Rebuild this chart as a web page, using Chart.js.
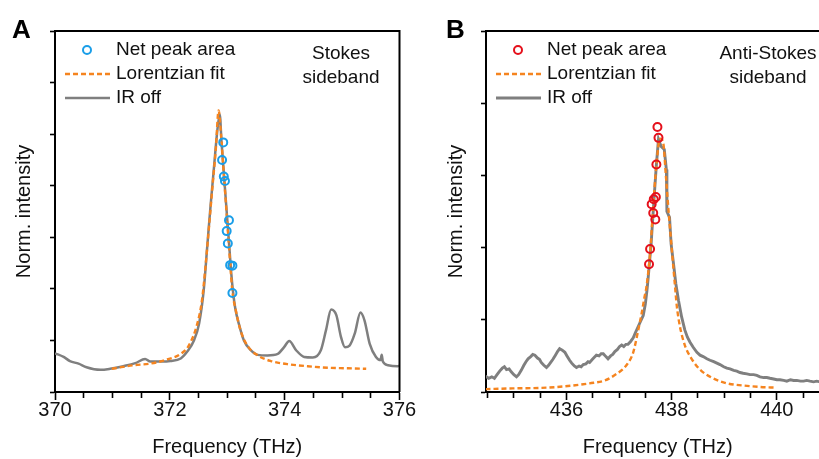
<!DOCTYPE html>
<html>
<head>
<meta charset="utf-8">
<script src="https://cdn.jsdelivr.net/npm/chart.js@4.4.1/dist/chart.umd.min.js"></script>
<style>
  html, body { margin: 0; padding: 0; background: #fff; overflow: hidden; }
  body { width: 819px; height: 459px; position: relative; }
  canvas { position: absolute; top: 0; }
  #stokes { left: 0; }
  #antiStokes { left: 410px; }
</style>
</head>
<body>
<canvas id="stokes" width="430" height="459"></canvas>
<canvas id="antiStokes" width="430" height="459"></canvas>
<script>
// Stokes sideband: [frequency THz, normalised intensity]
const stokesIrOff = [
  [370.00, 0.75], [370.15, 0.68], [370.26, 0.60], [370.41, 0.55], [370.55, 0.48],
  [370.79, 0.43], [370.96, 0.45], [371.19, 0.50], [371.40, 0.56], [371.57, 0.64],
  [371.66, 0.59], [371.84, 0.59], [372.01, 0.60], [372.19, 0.65], [372.30, 0.78],
  [372.42, 1.00], [372.51, 1.33], [372.59, 1.97], [372.65, 2.80], [372.71, 3.62],
  [372.77, 4.37], [372.83, 5.10], [372.87, 5.38], [372.90, 4.85], [372.93, 4.40],
  [372.96, 3.95], [373.00, 3.35], [373.04, 2.75], [373.07, 2.30], [373.10, 1.95],
  [373.14, 1.62], [373.20, 1.33], [373.29, 1.00], [373.41, 0.81], [373.53, 0.72],
  [373.70, 0.71], [373.88, 0.74], [373.99, 0.87], [374.08, 0.99], [374.20, 0.81],
  [374.34, 0.68], [374.49, 0.67], [374.63, 0.81], [374.72, 1.20], [374.81, 1.60],
  [374.90, 1.49], [374.98, 1.07], [375.05, 0.87], [375.13, 0.90], [375.22, 1.13],
  [375.32, 1.54], [375.39, 1.39], [375.48, 0.94], [375.59, 0.68], [375.67, 0.62],
  [375.69, 0.72], [375.71, 0.59], [375.80, 0.52], [375.97, 0.50], [376.00, 0.51]
];
const stokesFit = [
  [370.99, 0.45], [371.37, 0.52], [371.66, 0.55], [371.95, 0.63], [372.19, 0.74],
  [372.33, 0.90], [372.48, 1.33], [372.56, 1.78], [372.62, 2.42], [372.68, 3.17],
  [372.74, 3.95], [372.80, 4.70], [372.85, 5.46], [372.89, 5.02], [372.94, 4.22],
  [372.99, 3.45], [373.04, 2.66], [373.09, 1.95], [373.15, 1.58], [373.23, 1.20],
  [373.35, 0.90], [373.53, 0.71], [373.76, 0.60], [374.05, 0.54], [374.40, 0.50],
  [374.75, 0.47], [375.10, 0.46], [375.42, 0.45]
];
const stokesPeakArea = [
  [372.93, 4.84], [372.91, 4.50], [372.94, 4.18], [372.96, 4.09], [373.03, 3.33],
  [372.99, 3.12], [373.01, 2.88], [373.05, 2.46], [373.09, 2.45], [373.09, 1.92]
];

// Anti-Stokes sideband
const antiIrOff = [
  [434.46, 0.22], [434.52, 0.19], [434.58, 0.21], [434.63, 0.19], [434.68, 0.24],
  [434.73, 0.29], [434.78, 0.33], [434.82, 0.35], [434.86, 0.31], [434.91, 0.32],
  [434.95, 0.28], [435.00, 0.24], [435.05, 0.21], [435.09, 0.24], [435.14, 0.30],
  [435.19, 0.37], [435.23, 0.42], [435.27, 0.46], [435.32, 0.49], [435.36, 0.52],
  [435.40, 0.51], [435.45, 0.47], [435.49, 0.45], [435.52, 0.41], [435.57, 0.37],
  [435.62, 0.34], [435.66, 0.37], [435.70, 0.41], [435.74, 0.45], [435.79, 0.51],
  [435.83, 0.56], [435.87, 0.60], [435.92, 0.58], [435.97, 0.55], [436.01, 0.50],
  [436.06, 0.44], [436.10, 0.40], [436.15, 0.36], [436.19, 0.34], [436.24, 0.36],
  [436.28, 0.35], [436.32, 0.38], [436.37, 0.39], [436.41, 0.42], [436.44, 0.41],
  [436.49, 0.45], [436.53, 0.48], [436.57, 0.51], [436.62, 0.50], [436.66, 0.53],
  [436.70, 0.53], [436.75, 0.49], [436.79, 0.46], [436.84, 0.50], [436.88, 0.52],
  [436.92, 0.56], [436.97, 0.59], [437.01, 0.63], [437.05, 0.65], [437.09, 0.63],
  [437.13, 0.66], [437.17, 0.66], [437.22, 0.70], [437.27, 0.75], [437.31, 0.82],
  [437.36, 0.90], [437.41, 0.98], [437.46, 1.06], [437.50, 1.22], [437.53, 1.40],
  [437.55, 1.55], [437.61, 2.05], [437.66, 2.62], [437.71, 3.15], [437.75, 3.50],
  [437.80, 3.40], [437.86, 3.36], [437.90, 3.08], [437.91, 2.50], [437.96, 2.42],
  [437.99, 2.05], [438.04, 1.75], [438.08, 1.50], [438.13, 1.27], [438.19, 1.04],
  [438.25, 0.86], [438.30, 0.76], [438.35, 0.69], [438.41, 0.62], [438.48, 0.55],
  [438.54, 0.51], [438.60, 0.49], [438.67, 0.46], [438.73, 0.44], [438.80, 0.42],
  [438.86, 0.40], [438.92, 0.38], [438.99, 0.35], [439.05, 0.33], [439.11, 0.32],
  [439.18, 0.30], [439.24, 0.29], [439.30, 0.27], [439.36, 0.26], [439.43, 0.25],
  [439.49, 0.24], [439.56, 0.24], [439.62, 0.23], [439.68, 0.21], [439.75, 0.20],
  [439.81, 0.20], [439.87, 0.19], [439.94, 0.18], [440.00, 0.17], [440.06, 0.17],
  [440.13, 0.16], [440.19, 0.15], [440.26, 0.17], [440.32, 0.16], [440.38, 0.16],
  [440.45, 0.15], [440.51, 0.15], [440.57, 0.16], [440.63, 0.15], [440.70, 0.14],
  [440.76, 0.15], [440.82, 0.14], [440.90, 0.14], [441.00, 0.14]
];
const antiFit = [
  [434.46, 0.04], [434.98, 0.05], [435.62, 0.06], [436.13, 0.09], [436.44, 0.12],
  [436.73, 0.16], [436.95, 0.25], [437.14, 0.37], [437.27, 0.55], [437.36, 0.84],
  [437.43, 1.09], [437.48, 1.30], [437.52, 1.45], [437.59, 1.92], [437.65, 2.57],
  [437.71, 3.14], [437.78, 3.51], [437.84, 3.45], [437.89, 3.00], [437.94, 2.52],
  [438.00, 2.00], [438.06, 1.50], [438.10, 1.18], [438.16, 0.90], [438.25, 0.65],
  [438.38, 0.46], [438.54, 0.31], [438.76, 0.20], [439.05, 0.12], [439.36, 0.09],
  [439.68, 0.07], [439.99, 0.06]
];
const antiPeakArea = [
  [437.73, 3.67], [437.75, 3.52], [437.71, 3.15], [437.70, 2.70], [437.66, 2.67],
  [437.62, 2.60], [437.65, 2.48], [437.69, 2.39], [437.59, 1.98], [437.57, 1.77]
];

const legendLabels = ['Net peak area', 'Lorentzian fit', 'IR off'];
const FONT = '"Liberation Sans", Arial, sans-serif';

const toXY = (pairs) => pairs.map(([x, y]) => ({ x, y }));
const isMajor = (v) => Math.abs(v / 2 - Math.round(v / 2)) < 1e-6;

// frame, inset legend, sideband note and panel letter
const panelDecor = {
  id: 'panelDecor',
  afterDraw(chart, args, opts) {
    const { ctx, chartArea: a } = chart;
    ctx.save();
    ctx.strokeStyle = '#000';
    ctx.lineWidth = 2;
    ctx.beginPath();
    ctx.moveTo(a.left, a.top);
    ctx.lineTo(a.right, a.top);
    ctx.lineTo(a.right, a.bottom);
    ctx.stroke();

    ctx.font = '19px ' + FONT;
    ctx.textBaseline = 'middle';
    ctx.fillStyle = '#111';
    chart.data.datasets.forEach((ds, i) => {
      const y = a.top + 19 + i * 24;
      ctx.save();
      ctx.strokeStyle = ds.borderColor;
      ctx.lineWidth = ds.showLine ? ds.borderWidth : ds.pointBorderWidth;
      if (ds.showLine) {
        ctx.setLineDash(ds.borderDash || []);
        ctx.beginPath();
        ctx.moveTo(a.left + 10, y);
        ctx.lineTo(a.left + 55, y);
        ctx.stroke();
      } else {
        ctx.beginPath();
        ctx.arc(a.left + 32, y, ds.pointRadius, 0, Math.PI * 2);
        ctx.stroke();
      }
      ctx.restore();
      ctx.fillText(ds.label, a.left + 61, y);
    });

    ctx.textAlign = 'center';
    opts.note.forEach((line, i) => ctx.fillText(line, opts.noteX, a.top + 23 + i * 24));

    ctx.font = 'bold 26px ' + FONT;
    ctx.textAlign = 'left';
    ctx.textBaseline = 'alphabetic';
    ctx.fillStyle = '#000';
    ctx.fillText(opts.letter, opts.letterX, 38);
    ctx.restore();
  }
};

function makePanel(id, cfg) {
  return new Chart(document.getElementById(id), {
    type: 'scatter',
    data: {
      datasets: [
        {
          label: legendLabels[0],
          data: toXY(cfg.points),
          showLine: false,
          pointRadius: 4,
          pointBorderWidth: 2,
          borderWidth: 2,
          borderColor: cfg.pointColor,
          pointBorderColor: cfg.pointColor,
          pointBackgroundColor: 'rgba(0,0,0,0)',
          backgroundColor: 'rgba(0,0,0,0)'
        },
        {
          label: legendLabels[1],
          data: toXY(cfg.fit),
          showLine: true,
          pointRadius: 0,
          borderColor: '#f5841f',
          borderWidth: 2.4,
          borderDash: [5, 3],
          cubicInterpolationMode: 'monotone'
        },
        {
          label: legendLabels[2],
          data: toXY(cfg.irOff),
          showLine: true,
          pointRadius: 0,
          borderColor: '#7f7f7f',
          borderWidth: cfg.irWidth,
          cubicInterpolationMode: cfg.irSmooth ? 'monotone' : 'default',
          tension: 0
        }
      ]
    },
    options: {
      responsive: false,
      animation: false,
      events: [],
      layout: { padding: { left: 0, right: cfg.padRight, top: 31, bottom: 0 } },
      plugins: {
        legend: { display: false },
        tooltip: { enabled: false },
        panelDecor: { note: cfg.note, noteX: cfg.noteX, letter: cfg.letter, letterX: cfg.letterX }
      },
      scales: {
        x: {
          type: 'linear',
          min: cfg.xMin,
          max: cfg.xMax,
          border: { color: '#000', width: 2 },
          grid: {
            drawOnChartArea: false,
            drawTicks: true,
            tickLength: 8,
            tickWidth: 1.6,
            tickColor: '#000',
            tickBorderDash: (c) => (c.tick && isMajor(c.tick.value) ? [] : [5, 40])
          },
          ticks: {
            stepSize: 0.5,
            includeBounds: false,
            autoSkip: false,
            maxRotation: 0,
            padding: 0,
            color: '#111',
            font: { family: FONT, size: 20, lineHeight: 1 },
            callback: (v) => (isMajor(v) ? String(Math.round(v)) : '')
          },
          title: {
            display: true,
            text: 'Frequency (THz)',
            color: '#111',
            font: { family: FONT, size: 20, lineHeight: 1.2 },
            padding: { top: 0, bottom: 0 }
          },
          afterFit: (s) => { s.height = 67; s.paddingLeft = 0; s.paddingRight = 0; }
        },
        y: {
          type: 'linear',
          min: 0,
          max: cfg.yMax,
          border: { color: '#000', width: 2 },
          grid: {
            drawOnChartArea: false,
            drawTicks: true,
            tickLength: 5,
            tickWidth: 1.6,
            tickColor: '#000'
          },
          ticks: { stepSize: 1, display: false },
          title: {
            display: true,
            text: 'Norm. intensity',
            color: '#111',
            font: { family: FONT, size: 20, lineHeight: 1.2 },
            padding: { top: cfg.yTitlePad, bottom: 0 }
          },
          afterFit: (s) => { s.width = cfg.yWidth; s.paddingTop = 0; s.paddingBottom = 0; }
        }
      }
    },
    plugins: [panelDecor]
  });
}

makePanel('stokes', {
  points: stokesPeakArea, fit: stokesFit, irOff: stokesIrOff,
  pointColor: '#1a9ee8', irWidth: 2.5, irSmooth: true,
  xMin: 370, xMax: 376, yMax: 7,
  yWidth: 55, yTitlePad: 12, padRight: 30.5,
  note: ['Stokes', 'sideband'], noteX: 341, letter: 'A', letterX: 12
});

makePanel('antiStokes', {
  points: antiPeakArea, fit: antiFit, irOff: antiIrOff,
  pointColor: '#e5101b', irWidth: 2.9, irSmooth: false,
  xMin: 434.47, xMax: 441, yMax: 5,
  yWidth: 76, yTitlePad: 34, padRight: 10.6,
  note: ['Anti-Stokes', 'sideband'], noteX: 358, letter: 'B', letterX: 36
});
</script>
</body>
</html>
